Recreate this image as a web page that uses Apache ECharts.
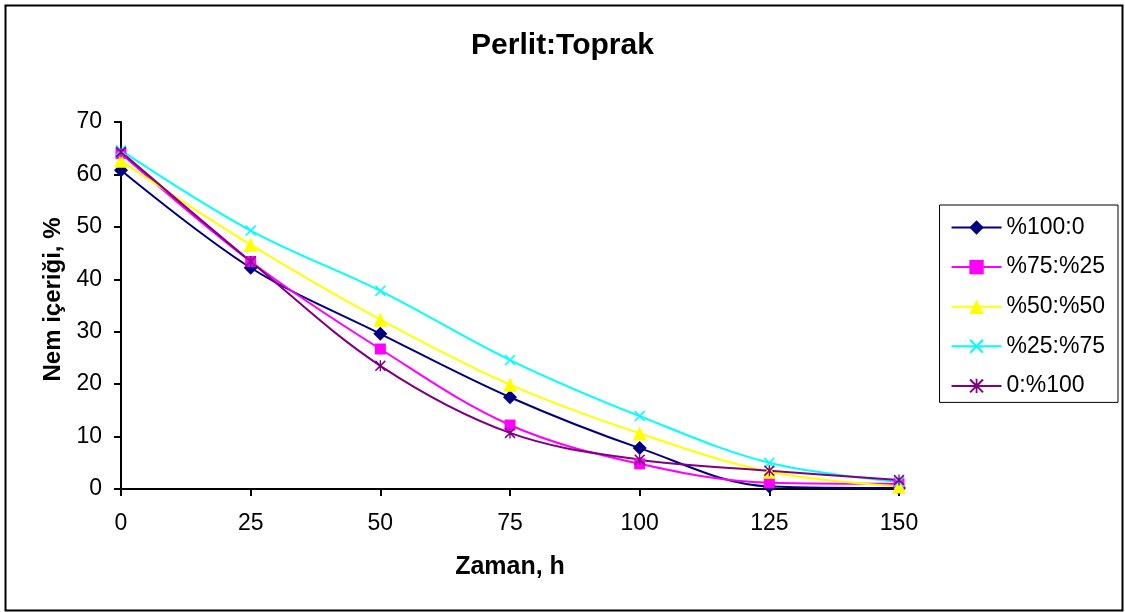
<!DOCTYPE html>
<html>
<head>
<meta charset="utf-8">
<script src="https://cdn.jsdelivr.net/npm/echarts@6/dist/echarts.min.js"></script>
<style>
  html, body { margin: 0; padding: 0; background: #fff; }
  #chart { width: 1125px; height: 612px; }
</style>
</head>
<body>
<div id="chart"></div>
<script>
// ---- Data ----
var hours = [0, 25, 50, 75, 100, 125, 150];
var s100_0  = [60.8, 42.2, 29.6, 17.5, 7.8, 0.5, 0.2];
var s75_25  = [64.0, 43.4, 26.7, 12.2, 4.8, 1.2, 1.0];
var s50_50  = [62.6, 46.6, 32.3, 19.9, 10.6, 3.3, 0.5];
var s25_75  = [64.6, 49.3, 37.8, 24.6, 13.9, 5.0, 1.4];
var s0_100  = [64.3, 43.4, 23.5, 10.7, 5.6, 3.5, 1.7];
var seriesNames = ['%100:0', '%75:%25', '%50:%50', '%25:%75', '0:%100'];
var yTicks = [0, 10, 20, 30, 40, 50, 60, 70];
var xTicks = [0, 25, 50, 75, 100, 125, 150];

function pairs(vals) { return hours.map(function (h, i) { return [h, vals[i]]; }); }

var xPath = 'path://M0,1 L1,0 L5,4 L9,0 L10,1 L6,5 L10,9 L9,10 L5,6 L1,10 L0,9 L4,5 Z';
var starPath = 'path://M0,1 L1,0 L5,4 L9,0 L10,1 L6,5 L10,9 L9,10 L5,6 L1,10 L0,9 L4,5 Z M4.4,0 L5.6,0 L5.6,10 L4.4,10 Z';

var FONT = 'Liberation Sans, Arial, sans-serif';

function mk(name, vals, color, symbol, size) {
  return {
    name: name, type: 'line', data: pairs(vals), smooth: 0.35,
    symbol: symbol, symbolSize: size, showAllSymbol: true,
    lineStyle: { color: color, width: 2 },
    itemStyle: { color: color, borderWidth: 0 },
    emphasis: { disabled: true },
    z: 2
  };
}

var chart = echarts.init(document.getElementById('chart'), null, { renderer: 'canvas' });
chart.setOption({
  animation: false,
  backgroundColor: '#ffffff',
  title: {
    text: 'Perlit:Toprak', left: 'center', top: 31, padding: 0,
    textStyle: { fontFamily: FONT, fontSize: 30, fontWeight: 'bold', color: '#000' }
  },
  grid: { left: 121, right: 226, top: 122, bottom: 123, containLabel: false },
  legend: {
    orient: 'vertical', right: 7, top: 205,
    padding: [11, 13, 5, 11],
    borderColor: '#000', borderWidth: 1,
    itemWidth: 50, itemHeight: 18, itemGap: 16.6,
    textStyle: { fontFamily: FONT, fontSize: 23, color: '#000', lineHeight: 23 },
    data: seriesNames
  },
  xAxis: {
    type: 'value', min: 0, max: 150, interval: 25,
    name: 'Zaman, h', nameLocation: 'middle', nameGap: 66,
    nameTextStyle: { fontFamily: FONT, fontSize: 25, fontWeight: 'bold', color: '#000' },
    axisLine: { onZero: false, lineStyle: { color: '#000', width: 2 } },
    axisTick: { show: true, length: 7, inside: false, lineStyle: { color: '#000', width: 2 } },
    axisLabel: { fontFamily: FONT, fontSize: 23, color: '#000', margin: 23,
      formatter: function (v) { return xTicks.indexOf(v) >= 0 ? String(v) : ''; } },
    splitLine: { show: false }
  },
  yAxis: {
    type: 'value', min: 0, max: 70, interval: 10,
    name: 'Nem içeriği, %', nameLocation: 'middle', nameGap: 54, nameRotate: 90,
    nameTextStyle: { fontFamily: FONT, fontSize: 24, fontWeight: 'bold', color: '#000', padding: [0, 0, 0, 12] },
    axisLine: { show: true, lineStyle: { color: '#000', width: 2 } },
    axisTick: { show: true, length: 7, inside: false, lineStyle: { color: '#000', width: 2 } },
    axisLabel: { fontFamily: FONT, fontSize: 23, color: '#000', margin: 19,
      formatter: function (v) { return yTicks.indexOf(v) >= 0 ? String(v) : ''; } },
    splitLine: { show: false }
  },
  graphic: [{
    type: 'rect', left: 3, top: 3, z: -10, silent: true,
    shape: { width: 1117, height: 605 },
    style: { fill: 'none', stroke: '#000', lineWidth: 2 }
  }],
  series: [
    mk(seriesNames[0], s100_0, '#000080', 'diamond', 14),
    mk(seriesNames[1], s75_25, '#FF00FF', 'rect', 11),
    mk(seriesNames[2], s50_50, '#FFFF00', 'triangle', 14),
    mk(seriesNames[3], s25_75, '#00FFFF', xPath, 11),
    mk(seriesNames[4], s0_100, '#800080', starPath, 11)
  ]
});
</script>
</body>
</html>
